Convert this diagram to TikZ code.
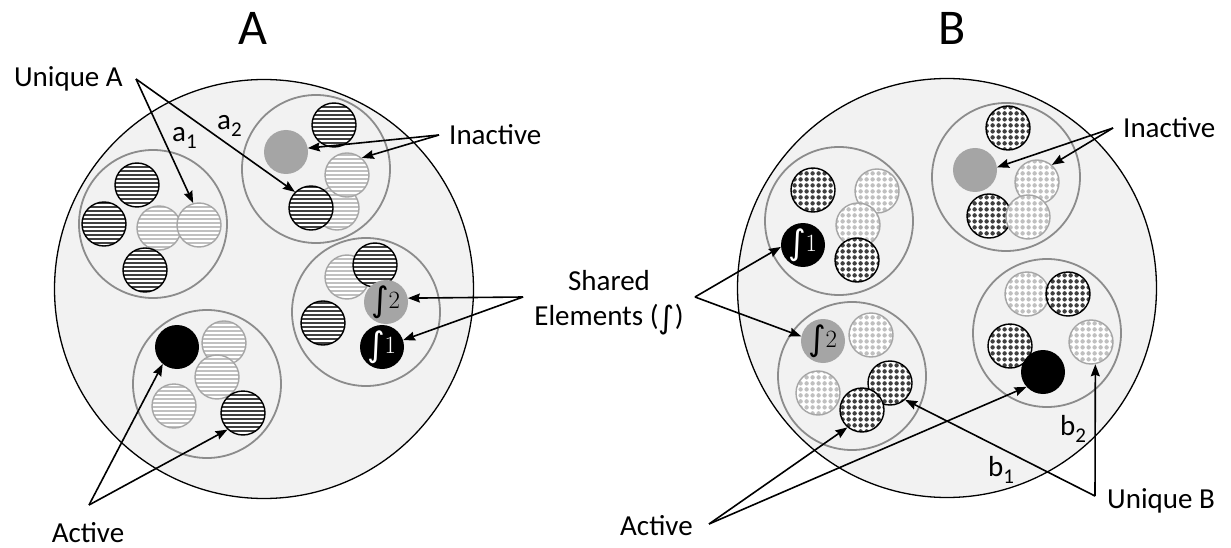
\documentclass[tikz,border=0pt]{standalone}
\usepackage{exscale}
\usepackage{fontspec}
\setmainfont{Carlito}
\newfontfamily\symfont{DejaVu Sans}
\usetikzlibrary{patterns,arrows.meta}

% horizontal stripe fill (wide tile keeps the stripes continuous)
\pgfdeclarepatternformonly{hstripes}{\pgfpointorigin}{\pgfpoint{60pt}{4pt}}{\pgfpoint{60pt}{4pt}}{%
  \pgfpathrectangle{\pgfpoint{-1pt}{0pt}}{\pgfpoint{62pt}{2.2pt}}\pgfusepath{fill}}
% dotted grid fill
\pgfdeclarepatternformonly{gdots}{\pgfpointorigin}{\pgfpoint{6pt}{6pt}}{\pgfpoint{6pt}{6pt}}{%
  \pgfpathcircle{\pgfpoint{3pt}{3pt}}{2.5pt}\pgfusepath{fill}}

\definecolor{bgfill}{HTML}{F2F2F2}
\definecolor{grpline}{HTML}{8C8C8C}
\definecolor{darkpat}{HTML}{404040}
\definecolor{lightpat}{HTML}{C0C0C0}
\definecolor{lightline}{HTML}{A6A6A6}
\definecolor{inactfill}{HTML}{A5A5A5}

\tikzset{
  bigcirc/.style={circle, draw=black, line width=1.3pt, fill=bgfill, minimum size=419pt, inner sep=0pt},
  grp/.style={circle, draw=grpline, line width=1.8pt, minimum size=148pt, inner sep=0pt},
  elem/.style={circle, minimum size=44pt, inner sep=0pt},
  dstripe/.style={elem, draw=black, line width=1.4pt, preaction={fill=white}, pattern=hstripes, pattern color=darkpat},
  lstripe/.style={elem, draw=lightline, line width=1.4pt, preaction={fill=white}, pattern=hstripes, pattern color=lightpat},
  ddot/.style={elem, draw=black, line width=1.4pt, preaction={fill=white}, pattern=gdots, pattern color=darkpat},
  ldot/.style={elem, draw=lightline, line width=1.4pt, preaction={fill=white}, pattern=gdots, pattern color=lightpat},
  inact/.style={elem, fill=inactfill},
  act/.style={elem, fill=black},
  shared/.style={font=\fontsize{28}{28}\selectfont},
  lbl/.style={inner sep=0pt},
  title/.style={inner sep=0pt, font=\fontsize{50}{50}\selectfont},
  arr/.style={line width=1.6pt, -{Stealth[length=12pt,width=9pt,inset=1.5pt]}},
}

\newcommand{\sublbl}[2]{#1\raisebox{-7pt}{\fontsize{21}{21}\selectfont #2}}
\newcommand{\intsym}[1]{{\symfont\fontsize{#1}{#1}\selectfont ∫}}
\newcommand{\sharedmark}[1]{\raisebox{-3pt}{\intsym{34}}\kern-1pt$#1$}

\begin{document}
\begin{tikzpicture}[x=1pt, y=-1pt, font=\fontsize{29}{36}\selectfont]
\useasboundingbox (0,0) rectangle (1231,548);

% ---------------- panel A ----------------
\node[bigcirc] (bigA) at (264,289) {};
\node[grp] (gA1) at (153,224) {};
\node[grp] (gA2) at (316,169) {};
\node[grp] (gA3) at (366,312) {};
\node[grp] (gA4) at (207,384) {};

% group a1
\node[dstripe] (a11) at (137,185) {};
\node[dstripe] (a12) at (104,224) {};
\node[lstripe] (a13) at (159,228) {};
\node[lstripe] (a14) at (199,225) {};
\node[dstripe] (a15) at (145,270) {};
% group a2
\node[inact]   (a21) at (286,152) {};
\node[dstripe] (a22) at (334,125) {};
\node[lstripe] (a23) at (337,208) {};
\node[lstripe] (a24) at (347,175) {};
\node[dstripe] (a25) at (311,208) {};
% shared group in A
\node[lstripe] (a31) at (347,277) {};
\node[dstripe] (a32) at (375,265) {};
\node[inact, shared] (a33) at (386,302) {\sharedmark{2}};
\node[dstripe] (a34) at (323,323) {};
\node[act, shared, text=white] (a35) at (382,347) {\sharedmark{1}};
% active group in A
\node[act]     (a41) at (177,347) {};
\node[lstripe] (a42) at (224,343) {};
\node[lstripe] (a43) at (217,377) {};
\node[lstripe] (a44) at (174,406) {};
\node[dstripe] (a45) at (243,413) {};

% ---------------- panel B ----------------
\node[bigcirc] (bigB) at (947,288) {};
\node[grp] (gB1) at (839,221) {};
\node[grp] (gB2) at (1006,177) {};
\node[grp] (gB3) at (852,376) {};
\node[grp] (gB4) at (1047,333) {};

% shared group 1 in B
\node[ddot] (b11) at (813,190) {};
\node[ldot] (b12) at (877,191) {};
\node[ldot] (b13) at (858,225) {};
\node[ddot] (b14) at (857,260) {};
\node[act, shared, text=white] (b15) at (803,245) {\sharedmark{1}};
% inactive group in B
\node[ddot]  (b21) at (1008,128) {};
\node[inact] (b22) at (975,170) {};
\node[ldot]  (b23) at (1037,182) {};
\node[ddot]  (b24) at (989,216) {};
\node[ldot]  (b25) at (1028,217) {};
% shared group 2 in B
\node[inact, shared] (b31) at (823,341) {\sharedmark{2}};
\node[ldot] (b32) at (871,335) {};
\node[ldot] (b33) at (818,393) {};
\node[ddot] (b34) at (890,383) {};
\node[ddot] (b35) at (862,410) {};
% active group in B
\node[ldot] (b41) at (1027,294) {};
\node[ddot] (b42) at (1068,294) {};
\node[ddot] (b43) at (1010,346) {};
\node[act]  (b44) at (1043,372) {};
\node[ldot] (b45) at (1091,342) {};

% ---------------- titles and labels ----------------
\node[title, anchor=base] (tA) at (253,45) {A};
\node[title, anchor=base] (tB) at (952,45) {B};

\node[lbl, anchor=base east] (uniqA) at (123,87) {Unique A};
\node[lbl, anchor=base west] (inactA) at (449,145) {Inactive};
\node[lbl, anchor=base] (actA) at (88,542) {Active};
\node[lbl, anchor=base] (shared1) at (609,290) {Shared};
\node[lbl, anchor=base] (shared2) at (609,325) {Elements (\raisebox{-3pt}{\intsym{31}})};
\node[lbl, anchor=base west] (inactB) at (1123,138) {Inactive};
\node[lbl, anchor=base west] (actB) at (620,535) {Active};
\node[lbl, anchor=base west] (uniqB) at (1107,508) {Unique B};

\node[lbl, anchor=base west] (la1) at (172,142) {\sublbl{a}{1}};
\node[lbl, anchor=base west] (la2) at (217,130) {\sublbl{a}{2}};
\node[lbl, anchor=base west] (lb1) at (988,476) {\sublbl{b}{1}};
\node[lbl, anchor=base west] (lb2) at (1060,435) {\sublbl{b}{2}};

% arrow origins next to the labels
\coordinate (uniqAp) at (136,79);
\coordinate (inactAp) at (439,135);
\coordinate (sharedL) at (523,297);
\coordinate (sharedR) at (695,297);
\coordinate (actAp) at (89,505);
\coordinate (inactBp) at (1113,128);
\coordinate (actBp) at (709,524);
\coordinate (uniqBp) at (1095,496);

% ---------------- connectors ----------------
\draw[arr] (uniqAp) -- (a14.105);
\draw[arr] (uniqAp) -- (a25.135);
\draw[arr] (inactAp) -- (a21.10);
\draw[arr] (inactAp) -- (a24.49);
\draw[arr] (sharedL) -- (a33.10);
\draw[arr] (sharedL) -- (a35.18);
\draw[arr] (actAp) -- (a41.230);
\draw[arr] (actAp) -- (a45.227);

\draw[arr] (inactBp) -- (b22.7);
\draw[arr] (inactBp) -- (b23.49);
\draw[arr] (sharedR) -- (b15.185);
\draw[arr] (sharedR) -- (b31.168);
\draw[arr] (actBp) -- (b35.230);
\draw[arr] (actBp) -- (b44.222);
\draw[arr] (uniqBp) -- (b34.312);
\draw[arr] (uniqBp) -- (b45.281);
\end{tikzpicture}
\end{document}
